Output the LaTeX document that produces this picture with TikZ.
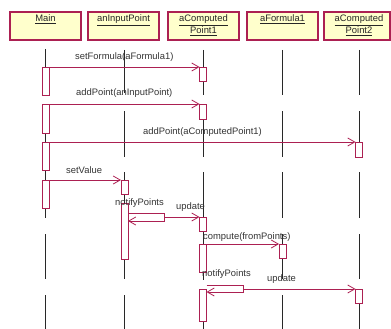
\documentclass[tikz,border=0pt]{standalone}
\usepackage{fontspec}
\setmainfont{Liberation Sans}
\usetikzlibrary{arrows.meta}
\definecolor{rose}{RGB}{172,32,82}
\definecolor{headfill}{RGB}{255,255,204}
\definecolor{lifegray}{RGB}{40,40,40}

% activation bar: name, x, top y, bottom y
\newcommand\actbar[4]{\node[act, minimum height={#4-#3}] (#1) at (#2,{(#3+#4)/2}) {};}

\begin{document}
\begin{tikzpicture}[x=1pt, y=-1pt,
  font=\fontsize{9.4}{12}\selectfont,
  head/.style={draw=rose, fill=headfill, line width=1.2pt, minimum width=71pt,
    minimum height=28pt, inner sep=0pt},
  htext/.style={anchor=north, align=center, inner sep=0pt, text=black!85},
  act/.style={draw=rose, fill=white, line width=0.9pt, minimum width=7pt,
    inner sep=0pt, outer sep=0pt},
  msg/.style={draw=rose, line width=0.8pt,
    -{Straight Barb[length=7pt, width=8pt, line width=0.8pt]}},
  life/.style={draw=lifegray, line width=0.8pt},
  lbl/.style={anchor=west, inner sep=0pt, text=black!80}]

\useasboundingbox (0,0) rectangle (391,329);

% object headers
\node[head] (hMain) at (45.5,26) {};
\node[head] (hInput) at (123.5,26) {};
\node[head] (hCP1) at (203.5,26) {};
\node[head] (hFormula) at (282.5,26) {};
\node[head, minimum width=66pt] (hCP2) at (357,26) {};

\node[htext] (tMain) at ([yshift=-3.5pt]hMain.north) {\underline{Main}};
\node[htext] (tInput) at ([yshift=-3.5pt]hInput.north) {\underline{anInputPoint}};
\node[htext] (tCP1) at ([yshift=-3.5pt]hCP1.north) {\underline{aComputed}\\\underline{Point1}};
\node[htext] (tFormula) at ([yshift=-3.5pt]hFormula.north) {\underline{aFormula1}};
\node[htext] (tCP2) at ([xshift=2pt,yshift=-3.5pt]hCP2.north) {\underline{aComputed}\\\underline{Point2}};

% lifelines (broken)
\foreach \ya/\yb in {49/67, 133/142, 170/180, 208/218, 234/279, 295/329}
  \draw[life] (45.5,\ya) -- (45.5,\yb);
\foreach \ya/\yb in {50/93, 111/157, 172/180, 194/203, 259/279, 295/329}
  \draw[life] (124.5,\ya) -- (124.5,\yb);
\foreach \ya/\yb in {50/67, 81/95, 119/157, 172/217, 231/244, 272/280, 321/329}
  \draw[life] (203,\ya) -- (203,\yb);
\foreach \ya/\yb in {50/95, 111/157, 172/218, 234/244, 258/279, 295/329}
  \draw[life] (282.5,\ya) -- (282.5,\yb);
\foreach \ya/\yb in {50/95, 111/142, 172/218, 234/279, 303/329}
  \draw[life] (359,\ya) -- (359,\yb);

% activation bars
\actbar{m1}{45.5}{67}{95}
\actbar{m2}{45.5}{104}{133}
\actbar{m3}{45.5}{142}{170}
\actbar{m4}{45.5}{180}{208}
\actbar{i1}{124.5}{180}{194}
\actbar{i2}{124.5}{203}{259}
\actbar{c1}{203}{67}{81}
\actbar{c2}{203}{104}{119}
\actbar{c3}{203}{217}{231}
\actbar{c4}{203}{244}{272}
\actbar{c5}{203}{289}{321}
\actbar{f1}{282.5}{244}{258}
\actbar{d1}{359}{142}{157}
\actbar{d2}{359}{289}{303}

% messages
\draw[msg] (m1.north east) -- (c1.north west);
\draw[msg] (m2.north east) -- (c2.north west);
\draw[msg] (m3.north east) -- (d1.north west);
\draw[msg] (m4.north east) -- (i1.north west);

\coordinate (na1) at (164,213);
\coordinate (na2) at (164,221);
\coordinate (na3) at (164,217);
\draw[msg] (i2.east |- na1) -- (na1) -- (na2) -- (i2.east |- na2);
\draw[msg] (na3) -- (c3.north west);

\draw[msg] (c4.north east) -- (f1.north west);

\coordinate (nb1) at (243,285);
\coordinate (nb2) at (243,292);
\coordinate (nb3) at (243,289);
\draw[msg] (c5.east |- nb1) -- (nb1) -- (nb2) -- (c5.east |- nb2);
\draw[msg] (nb3) -- (d2.north west);

% message labels
\node[lbl] (l1) at (75,57) {setFormula(aFormula1)};
\node[lbl] (l2) at (76,93) {addPoint(anInputPoint)};
\node[lbl] (l3) at (143,132) {addPoint(aComputedPoint1)};
\node[lbl] (l4) at (66,170) {setValue};
\node[lbl] (l5) at (115,203.5) {notifyPoints};
\node[lbl] (l6) at (176,207.5) {update};
\node[lbl] (l7) at (203,237) {compute(fromPoints)};
\node[lbl] (l8) at (202,274) {notifyPoints};
\node[lbl] (l9) at (267,279) {update};
\end{tikzpicture}
\end{document}
